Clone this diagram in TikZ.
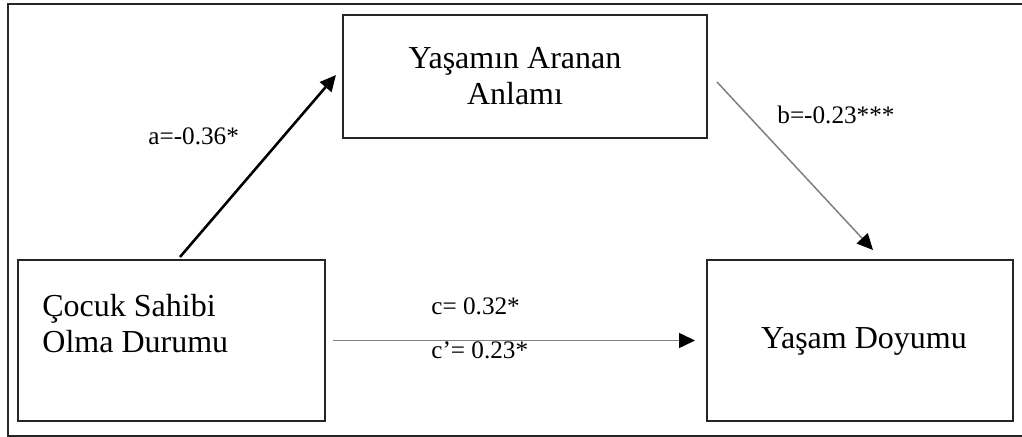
\documentclass[tikz,border=0pt]{standalone}
\usepackage{fontspec}
\setmainfont{Liberation Serif}
\usetikzlibrary{arrows.meta,calc}
\begin{document}
\begin{tikzpicture}[x=0.5pt,y=-0.5pt,
  box/.style={draw=black!85, line width=1pt, inner sep=0pt, outer sep=0pt},
  txt/.style={font=\fontsize{16}{18.25}\selectfont, inner sep=0pt},
  lbl/.style={font=\fontsize{12.6}{15}\selectfont, inner sep=0pt},
  tip/.style={-{Triangle[length=8pt,width=7.5pt,color=black]}},
  arrA/.style={tip, line width=1.3pt, black},
  arrG/.style={tip, line width=0.75pt, black!50},
]
\useasboundingbox (0,0) rectangle (1022,437);
\draw[line width=1.1pt, black!85] (1024,4) -- (8,4) -- (8,436) -- (1024,436);

\node[box, minimum width=182pt, minimum height=61.5pt] (top) at (525,76.5) {};
\node[box, minimum width=153.5pt, minimum height=80.5pt] (left) at (171.5,340.5) {};
\node[box, minimum width=153pt, minimum height=80.5pt] (right) at (860,340.5) {};

\node[txt, anchor=base, align=center] (toptxt) at (515,105) {Yaşamın Aranan\\Anlamı};
\node[txt, anchor=base west, align=left] (lefttxt) at (42,353) {Çocuk Sahibi\\Olma Durumu};
\node[txt, anchor=base] (righttxt) at (864,349) {Yaşam Doyumu};

\draw[arrA] ($(left.north)+(8.5,-3)$) -- ($(top.west)+(-7,-1.5)$);
\draw[arrG] ($(top.east)+(10,5.5)$) -- ($(right.north)+(13,-10)$);
\draw[arrG] ($(left.east)+(8,0)$) -- ($(right.west)+(-12,0)$);

\node[lbl, anchor=base west] (la) at (148,145) {a=-0.36*};
\node[lbl, anchor=base west] (lb) at (777,124) {b=-0.23***};
\node[lbl, anchor=base west] (lc) at (431,315) {c= 0.32*};
\node[lbl, anchor=base west] (lcp) at (431,359) {c’= 0.23*};
\end{tikzpicture}
\end{document}
